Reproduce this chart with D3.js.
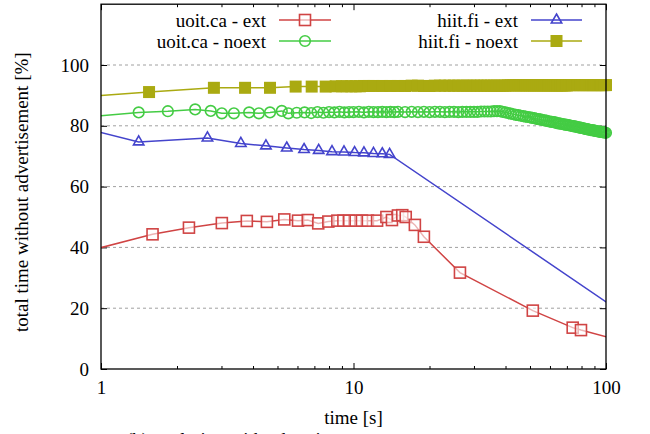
<!DOCTYPE html>
<html>
<head>
<meta charset="utf-8">
<script src="https://cdn.jsdelivr.net/npm/d3@7"></script>
<style>
  body { margin: 0; background: #fff; }
</style>
</head>
<body>
<svg id="chart"></svg>
<script>
// values (time [s], % without advertisement)
// first point sits left of the axis (clipped), like the original plot
const uoitExt = [[0.7,36.6],[1.6,44.3],[2.23,46.5],[3.01,48.0],[3.78,48.7],[4.54,48.4],[5.32,49.2],[6.03,48.8],
  [6.59,49.0],[7.25,47.9],[7.95,48.5],[8.63,48.8],[9.12,48.8],[9.62,48.8],[10.2,48.8],[10.8,48.8],[11.4,48.8],
  [12.4,48.8],[13.5,50.0],[14.2,49.0],[15.0,50.5],[15.6,50.6],[16.1,50.0],[17.5,47.4],[19.0,43.5],[26.4,31.7],
  [51.3,19.2],[73.8,13.6],[79.6,12.8],[120,8.9]];

const uoitNoext = [[0.7,82.2],[1.41,84.4],[1.84,84.8],[2.36,85.4],[2.72,84.9],[3.01,84.1],[3.36,84.1],[3.86,84.4],
  [4.22,84.1],[4.67,84.4],[5.2,84.9],[5.52,84.1],[5.96,84.3],[6.4,84.4],[6.8,84.2],[7.2,84.5],[7.6,84.3],[8.0,84.5],
  [8.4,84.4],[8.8,84.6],[9.2,84.4],[9.6,84.5],[10,84.5],[10.5,84.6],[11,84.4],[11.5,84.6],[12,84.5],[12.5,84.5],
  [13,84.6],[13.5,84.5],[14,84.6],[14.5,84.5],[15,84.6],[16,84.5],[17,84.6],[18,84.5],[19,84.6],[20,84.5],
  [21,84.6],[22,84.6],[23,84.5],[24,84.6],[25,84.6],[26,84.5],[27,84.6],[28,84.6],[29,84.6],[30,84.6],[31,84.6],
  [32,84.7],[33,84.7],[34,84.7],[35,84.7],[36,84.8],[37,84.8],[38,84.8],[39,84.6],[40,84.4],[41,84.2],[42,84.0],
  [43,83.8],[44,83.6],[45,83.5],[46,83.3],[47,83.2],[48,83.0],[49,82.9],[50,82.8],[51,82.6],[52,82.5],[53,82.3],
  [54,82.2],[55,82.1],[56,81.9],[57,81.8],[58,81.7],[59,81.5],[60,81.4],[61,81.3],[62,81.2],[63,81.1],[64,80.9],
  [65,80.8],[66,80.7],[67,80.6],[68,80.5],[69,80.4],[70,80.3],[71,80.2],[72,80.1],[73,80.0],[74,79.9],[75,79.8],
  [76,79.7],[77,79.6],[78,79.5],[79,79.4],[80,79.3],[81,79.2],[82,79.1],[83,79.0],[84,78.9],[85,78.8],[86,78.7],
  [87,78.6],[88,78.6],[89,78.5],[90,78.4],[91,78.3],[92,78.2],[93,78.2],[94,78.1],[95,78.0],[96,78.0],[97,77.9],
  [98,77.8],[99,77.8],[100,77.7]];

const hiitExt = [[0.7,81.0],[1.41,74.7],[2.64,76.0],[3.58,74.2],[4.5,73.4],[5.44,72.7],[6.37,72.2],[7.28,71.9],
  [8.22,71.5],[9.17,71.4],[10.1,71.2],[11.0,71.1],[12.0,70.9],[13.0,70.8],[13.9,70.6],[150,12.1]];

const hiitNoext = [[0.7,89.1],[1.55,91.1],[2.8,92.5],[3.72,92.5],[4.67,92.5],[5.9,92.9],[6.83,92.9],[7.76,92.9],
  [8.5,93.0],[9.0,93.0],[9.4,93.0],[9.8,93.0],[10.2,93.0],[10.6,93.0],[11,93.1],[11.5,93.1],[12,93.1],[13,93.1],
  [14,93.1],[15,93.1],[16,93.1],
  [17,93.2],[18,93.2],[19,93.1],[20,93.1],[21,93.2],[22,93.2],[23,93.2],[24,93.2],[25,93.2],[26,93.2],[27,93.2],
  [28,93.2],[29,93.2],[30,93.2],[31,93.2],[32,93.2],[33,93.2],[34,93.2],[35,93.2],[36,93.2],[37,93.2],[38,93.2],
  [39,93.2],[40,93.2],[41,93.3],[42,93.3],[43,93.3],[44,93.3],[45,93.3],[46,93.3],[47,93.3],[48,93.3],[49,93.3],
  [50,93.3],[51,93.3],[52,93.3],[53,93.3],[54,93.3],[55,93.3],[56,93.3],[57,93.3],[58,93.3],[59,93.3],[60,93.3],
  [61,93.3],[62,93.3],[63,93.3],[64,93.3],[65,93.3],[66,93.3],[67,93.3],[68,93.3],[69,93.3],[70,93.3],[71,93.4],
  [72,93.4],[73,93.4],[74,93.4],[75,93.4],[76,93.4],[77,93.4],[78,93.4],[79,93.4],[80,93.4],[81,93.4],[82,93.4],
  [83,93.4],[84,93.4],[85,93.4],[86,93.4],[87,93.4],[88,93.4],[89,93.4],[90,93.4],[91,93.4],[92,93.4],[93,93.4],
  [94,93.4],[95,93.4],[96,93.4],[97,93.4],[98,93.4],[99,93.4],[100,93.4]];

const yTicks = [0, 20, 40, 60, 80, 100];
const xTicks = [1, 10, 100];
const xMinor = [2,3,4,5,6,7,8,9,20,30,40,50,60,70,80,90];

const series = [
  { name: "uoit.ca - ext", data: uoitExt, color: "#d04444", shape: "square", col: 0, row: 0 },
  { name: "uoit.ca - noext", data: uoitNoext, color: "#44cc44", shape: "circle", col: 0, row: 1 },
  { name: "hiit.fi - ext", data: hiitExt, color: "#4444cc", shape: "triangle", col: 1, row: 0 },
  { name: "hiit.fi - noext", data: hiitNoext, color: "#aaaa11", shape: "filled", col: 1, row: 1 }
];

const W = 650, H = 434;
const margin = { top: 4.2, right: 44, bottom: 65, left: 101 };
const width = W - margin.left - margin.right;
const height = H - margin.top - margin.bottom;
const FONT = '"Liberation Serif"';

// every text element gets the serif face set on itself
const serif = (sel, size) => sel.attr("font-family", FONT).attr("font-size", size).attr("fill", "#000");

const svg = d3.select("#chart").attr("width", W).attr("height", H);
const g = svg.append("g").attr("transform", `translate(${margin.left},${margin.top})`);

const x = d3.scaleLog().domain([1, 100]).range([0, width]);
const y = d3.scaleLinear().domain([0, 120]).range([height, 0]);

svg.append("defs").append("clipPath").attr("id", "clip")
  .append("rect").attr("width", width).attr("height", height);

// dashed grid
g.append("g")
  .selectAll("line")
  .data(yTicks.filter(d => d > 0))
  .enter().append("line")
  .attr("x1", 0).attr("x2", width)
  .attr("y1", d => y(d)).attr("y2", d => y(d))
  .style("stroke", "#a0a0a0").style("stroke-width", 1).style("stroke-dasharray", "3,3");

// axes (gnuplot style, ticks pointing in)
const fmt = d3.format("d");
const axes = [
  g.append("g").attr("transform", `translate(0,${height})`)
    .call(d3.axisBottom(x).tickValues(xTicks).tickSize(-6).tickPadding(12).tickFormat(fmt)),
  g.append("g").attr("transform", `translate(0,${height})`)
    .call(d3.axisBottom(x).tickValues(xMinor).tickSize(-3).tickFormat("")),
  g.append("g").call(d3.axisTop(x).tickValues(xTicks).tickSize(-6).tickFormat("")),
  g.append("g").call(d3.axisTop(x).tickValues(xMinor).tickSize(-3).tickFormat("")),
  g.append("g").call(d3.axisLeft(y).tickValues(yTicks).tickSize(-6).tickPadding(12).tickFormat(fmt)),
  g.append("g").attr("transform", `translate(${width},0)`)
    .call(d3.axisRight(y).tickValues(yTicks).tickSize(-6).tickFormat(""))
];
axes.forEach(a => {
  a.attr("font-family", FONT).attr("font-size", 19);
  a.select(".domain").remove();
  a.selectAll(".tick line").style("stroke", "#000").style("stroke-width", 1);
  serif(a.selectAll("text"), 19);
});

const line = d3.line().x(d => x(d[0])).y(d => y(d[1]));

const drawMarker = (sel, s) => {
  if (s.shape === "square") {
    sel.append("rect").attr("x", -5.5).attr("y", -5.5).attr("width", 11).attr("height", 11)
      .style("fill", "#fff").style("fill-opacity", 0.6).style("stroke", s.color).style("stroke-width", 1.6);
  } else if (s.shape === "circle") {
    sel.append("circle").attr("r", 5.3)
      .style("fill", "none").style("stroke", s.color).style("stroke-width", 1.6);
  } else if (s.shape === "triangle") {
    sel.append("path").attr("d", "M0,-6L5.2,3L-5.2,3Z")
      .style("fill", "none").style("stroke", s.color).style("stroke-width", 1.6);
  } else {
    sel.append("rect").attr("x", -6).attr("y", -6).attr("width", 12).attr("height", 12)
      .style("fill", s.color);
  }
};

series.forEach(s => {
  g.append("path")
    .datum(s.data)
    .attr("clip-path", "url(#clip)")
    .attr("d", line)
    .style("fill", "none").style("stroke", s.color).style("stroke-width", 1.5);

  g.append("g")
    .selectAll("g")
    .data(s.data.filter(d => d[0] >= 1 && d[0] <= 100))
    .enter().append("g")
    .attr("transform", d => `translate(${x(d[0])},${y(d[1])})`)
    .each(function () { drawMarker(d3.select(this), s); });
});

// border
g.append("rect").attr("width", width).attr("height", height)
  .style("fill", "none").style("stroke", "#000").style("stroke-width", 1.3);

// legend
const legendText = [266, 518];
const legendLine = [[279, 331], [531, 582]];
const legendRow = [20, 41];
series.forEach(s => {
  const lg = svg.append("g");
  lg.append("text")
    .attr("x", legendText[s.col]).attr("y", legendRow[s.row] + 6.5)
    .attr("text-anchor", "end")
    .call(serif, 19)
    .text(s.name);
  lg.append("line")
    .attr("x1", legendLine[s.col][0]).attr("x2", legendLine[s.col][1])
    .attr("y1", legendRow[s.row]).attr("y2", legendRow[s.row])
    .style("stroke", s.color).style("stroke-width", 1.5);
  const mk = lg.append("g")
    .attr("transform", `translate(${(legendLine[s.col][0] + legendLine[s.col][1]) / 2},${legendRow[s.row]})`);
  drawMarker(mk, s);
});

// axis titles
svg.append("text")
  .attr("x", margin.left + width / 2).attr("y", 424)
  .attr("text-anchor", "middle")
  .call(serif, 19)
  .text("time [s]");

svg.append("text")
  .attr("transform", `translate(28,${margin.top + 188}) rotate(-90)`)
  .attr("text-anchor", "middle")
  .call(serif, 19)
  .text("total time without advertisement [%]");

// sub-caption, cut off by the bottom edge as in the source
svg.append("text")
  .attr("x", 126).attr("y", 446)
  .call(serif, 19)
  .text("(b) evolution with advertisement");
</script>
</body>
</html>
